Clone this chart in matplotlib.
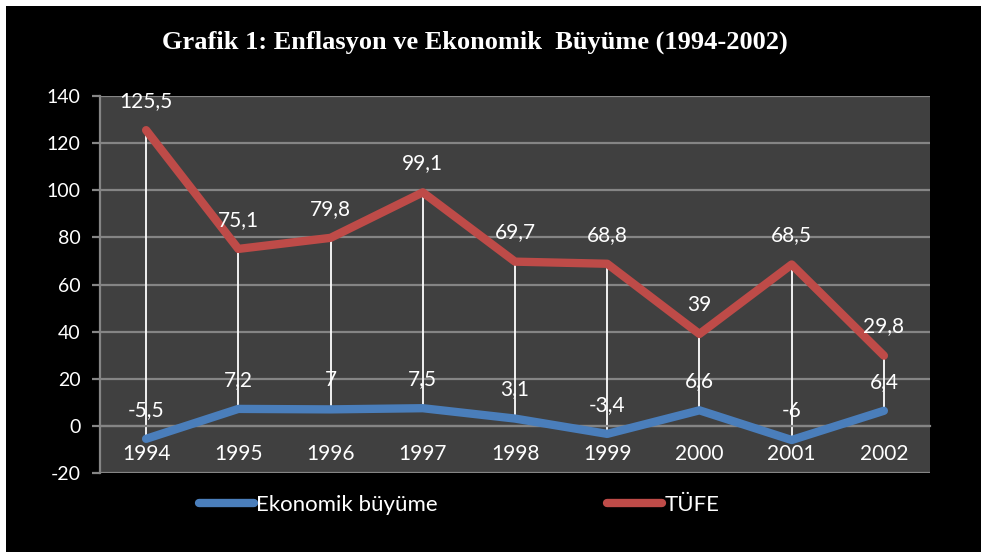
import matplotlib.pyplot as plt
from matplotlib.patches import Rectangle
from matplotlib.lines import Line2D

years = ['1994', '1995', '1996', '1997', '1998', '1999', '2000', '2001', '2002']
tufe = [125.5, 75.1, 79.8, 99.1, 69.7, 68.8, 39, 68.5, 29.8]
buyume = [-5.5, 7.2, 7, 7.5, 3.1, -3.4, 6.6, -6, 6.4]
yticks = [-20, 0, 20, 40, 60, 80, 100, 120, 140]

blue = '#4A7EBB'
red = '#BE4B48'
grid_c = '#858585'
txt_font = ['Lato', 'DejaVu Sans']

W, H = 981, 552
fig = plt.figure(figsize=(W / 100, H / 100), dpi=100)
fig.patch.set_facecolor('white')
fig.patches.append(Rectangle((6 / W, 0), 1, 1 - 6 / H, transform=fig.transFigure,
                             facecolor='black', edgecolor='none', zorder=-10))

ax = fig.add_axes([100 / W, (H - 473) / H, 830 / W, 377 / H])
ax.set_facecolor('#404040')

x = list(range(len(years)))

# white drop lines between the two series
for i in x:
    ax.plot([i, i], [buyume[i], tufe[i]], color='white', lw=1.3, zorder=2)

ax.plot(x, buyume, color=blue, lw=6, solid_capstyle='round', solid_joinstyle='round', zorder=3)
ax.plot(x, tufe, color=red, lw=6, solid_capstyle='round', solid_joinstyle='round', zorder=3)

def fmt(v):
    return str(v).replace('.', ',')

for i in x:
    ax.annotate(fmt(tufe[i]), (i, tufe[i]), xytext=(0, 21), textcoords='offset points',
                ha='center', va='center', color='white', fontsize=15, family=txt_font, zorder=4)
    ax.annotate(fmt(buyume[i]), (i, buyume[i]), xytext=(0, 21), textcoords='offset points',
                ha='center', va='center', color='white', fontsize=15, family=txt_font, zorder=4)

ax.grid(axis='y', color=grid_c, lw=1.6)
ax.set_axisbelow(True)
for s in ['top', 'right']:
    ax.spines[s].set_visible(False)
ax.spines['left'].set_color(grid_c)
ax.spines['left'].set_linewidth(1.6)
ax.spines['bottom'].set_position(('data', 0))
ax.spines['bottom'].set_color(grid_c)
ax.spines['bottom'].set_linewidth(1.6)

ax.set_xlim(-0.5, len(years) - 0.5)
ax.set_ylim(-20, 140)
ax.set_yticks(yticks)
ax.set_yticklabels([str(v) for v in yticks], family=txt_font, fontsize=14, color='white')
ax.set_xticks(x)
ax.set_xticklabels(years, family=txt_font, fontsize=15, color='white')
ax.tick_params(axis='y', length=6, width=1.6, color=grid_c, pad=8)
ax.tick_params(axis='x', length=0, pad=13)

fig.text(475 / W, 1 - 42 / H, 'Grafik 1: Enflasyon ve Ekonomik  Büyüme (1994-2002)',
         ha='center', va='center', color='white', fontsize=19, fontweight='bold',
         family='Liberation Serif')

handles = [Line2D([], [], color=blue, lw=6, solid_capstyle='round'),
           Line2D([], [], color=red, lw=6, solid_capstyle='round')]
leg = fig.legend(handles, ['Ekonomik büyüme', 'TÜFE'], loc='center',
                 bbox_to_anchor=(459 / W, 1 - 505 / H), ncol=2, frameon=False,
                 handlelength=2.5, handletextpad=0.1, columnspacing=7.6,
                 prop={'family': txt_font, 'size': 16})
for t in leg.get_texts():
    t.set_color('white')

fig.savefig('out.png', dpi=100, facecolor=fig.get_facecolor())
